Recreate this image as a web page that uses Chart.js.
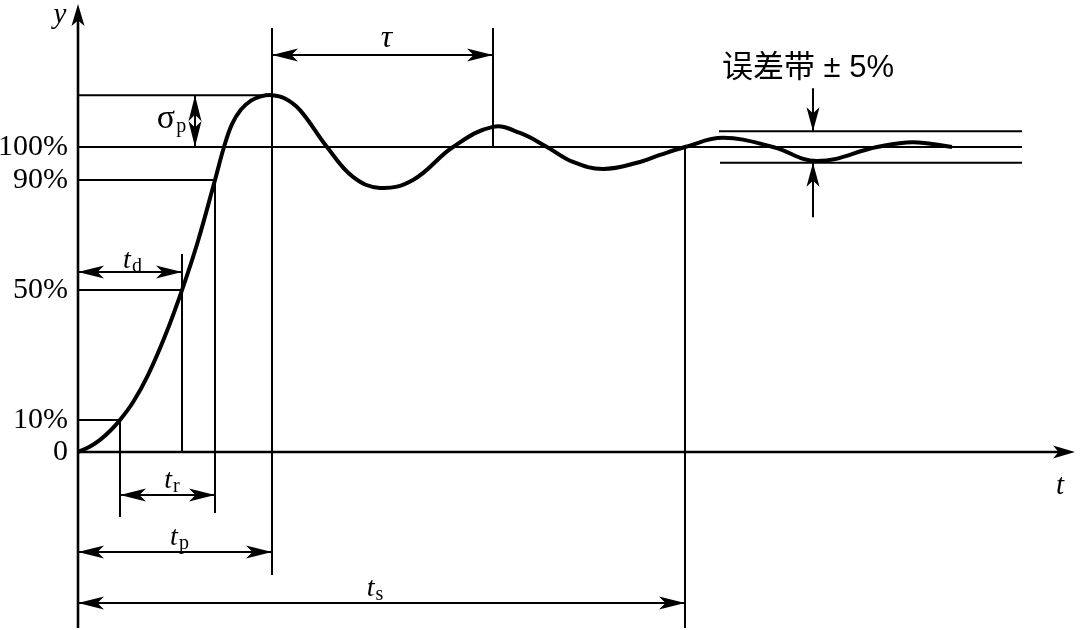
<!DOCTYPE html>
<html><head><meta charset="utf-8">
<script src="https://cdn.jsdelivr.net/npm/chart.js@4/dist/chart.umd.min.js"></script>
<style>html,body{margin:0;padding:0;background:#fff;}canvas{display:block}</style>
</head><body>
<canvas id="c" width="1081" height="630"></canvas>
<script>
// ---- data ----
const timeValues     = [0, 1.2, 2.2, 3.2, 4.2, 5.5, 7.0, 8.7, 10.4, 12.0, 13.7, 14.6, 15.4, 16.3, 17.3, 18.3, 19.4, 20.7, 22.2, 24.9, 27.5, 30.2, 33.5, 37.5, 41.5, 44.2, 46.9, 49.5, 52.5, 56.2, 58.2, 60.7, 64.5, 69.5, 73.9, 79.9, 83.5, 87.4];
const responseValues = [0, 1.8, 4.0, 6.9, 10.5, 16.3, 25.2, 38.0, 53.1, 69.2, 89.2, 100, 107.5, 112.3, 115.2, 116.6, 117.0, 115.9, 112.1, 100, 90.2, 86.6, 89.2, 100, 106.6, 104.6, 100, 95.1, 92.8, 95.1, 97.4, 100, 103.0, 100, 95.4, 100, 101.6, 100];
const levelValues = [0, 10.5, 53.1, 89.2, 100];
const levelLabels = ['0', '10%', '50%', '90%', '100%'];
const peakValue = 117.0;
const keyTimeNames  = ['t10', 'td', 't90', 'tp', 'tp2', 'ts'];
const keyTimeValues = [4.2, 10.4, 13.7, 19.4, 41.5, 60.7];
const bandValues = [105.2, 94.8];
const bandLabel = '误差带 ± 5%';

const T = {}; keyTimeNames.forEach((n, i) => T[n] = keyTimeValues[i]);

const annot = {
  id: 'annot',
  beforeDatasetsDraw(chart) {
    const ctx = chart.ctx, xs = chart.scales.x, ys = chart.scales.y;
    const X = v => xs.getPixelForValue(v), Y = v => ys.getPixelForValue(v);
    ctx.save();
    ctx.strokeStyle = '#000'; ctx.lineCap = 'butt';
    const line = (x1, y1, x2, y2, w) => { ctx.lineWidth = w; ctx.beginPath(); ctx.moveTo(X(x1), Y(y1)); ctx.lineTo(X(x2), Y(y2)); ctx.stroke(); };
    const thin = 2;
    // axes
    line(0, ys.min, 0, ys.max - 2, 2.6);
    line(0, 0, xs.max - 1, 0, 2.6);
    // levels
    line(0, 100, 94.4, 100, thin);
    line(0, peakValue, T.tp, peakValue, thin);
    line(0, levelValues[3], T.t90, levelValues[3], thin);
    line(0, levelValues[2], T.td, levelValues[2], thin);
    line(0, levelValues[1], T.t10, levelValues[1], thin);
    // verticals
    line(T.t10, levelValues[1], T.t10, -21.3, thin);
    line(T.td, 64.9, T.td, 0, thin);
    line(T.t90, levelValues[3], T.t90, -20.0, thin);
    line(T.tp, 139.0, T.tp, -40.3, thin);
    line(T.tp2, 139.0, T.tp2, 100, thin);
    line(T.ts, 100, T.ts, ys.min, thin);
    // band
    line(64.1, bandValues[0], 94.4, bandValues[0], thin);
    line(64.2, bandValues[1], 94.4, bandValues[1], thin);
    ctx.restore();
  },
  afterDatasetsDraw(chart) {
    const ctx = chart.ctx, xs = chart.scales.x, ys = chart.scales.y;
    const X = v => xs.getPixelForValue(v), Y = v => ys.getPixelForValue(v);
    ctx.save();
    ctx.fillStyle = '#000'; ctx.strokeStyle = '#000';
    const head = (tx, ty, ang, len = 26, half = 6.5) => {
      const dx = Math.cos(ang), dy = Math.sin(ang);
      const px = -dy, py = dx;
      ctx.beginPath();
      ctx.moveTo(tx, ty);
      ctx.lineTo(tx - len * dx + half * px, ty - len * dy + half * py);
      ctx.lineTo(tx - 0.75 * len * dx, ty - 0.75 * len * dy);
      ctx.lineTo(tx - len * dx - half * px, ty - len * dy - half * py);
      ctx.closePath(); ctx.fill();
    };
    const dbl = (x1, y1, x2, y2) => {
      const a = X(x1), b = Y(y1), c = X(x2), d = Y(y2);
      ctx.lineWidth = 2; ctx.beginPath(); ctx.moveTo(a, b); ctx.lineTo(c, d); ctx.stroke();
      const ang = Math.atan2(d - b, c - a);
      head(c, d, ang); head(a, b, ang + Math.PI);
    };
    const single = (x1, y1, x2, y2, len) => {
      const a = X(x1), b = Y(y1), c = X(x2), d = Y(y2);
      ctx.lineWidth = 2; ctx.beginPath(); ctx.moveTo(a, b); ctx.lineTo(c, d); ctx.stroke();
      head(c, d, Math.atan2(d - b, c - a), len, 6.5);
    };
    // axis arrowheads
    head(X(0), Y(ys.max) - 1, -Math.PI / 2, 22, 6.5);
    head(X(xs.max) - 3, Y(0), 0, 22, 6.5);
    // dimension arrows
    dbl(11.7, 100, 11.7, peakValue);
    dbl(T.tp, 130.2, T.tp2, 130.2);
    dbl(0, 59.0, T.td, 59.0);
    dbl(T.t10, -14.1, T.t90, -14.1);
    dbl(0, -32.8, T.tp, -32.8);
    dbl(0, -49.5, T.ts, -49.5);
    // band arrows
    single(73.5, 119.3, 73.5, bandValues[0], 24);
    single(73.5, 77.0, 73.5, bandValues[1], 24);

    // labels
    const mainF = 'italic 28px "Liberation Serif"', subF = '20px "Liberation Serif"';
    const sub = (m, s, cx, base, mf = mainF, sf = subF) => {
      ctx.font = mf; const w1 = ctx.measureText(m).width;
      ctx.font = sf; const w2 = ctx.measureText(s).width;
      const x0 = cx - (w1 + w2) / 2;
      ctx.textAlign = 'left'; ctx.textBaseline = 'alphabetic';
      ctx.font = mf; ctx.fillText(m, x0, base);
      ctx.font = sf; ctx.fillText(s, x0 + w1 + 1, base + 4);
    };
    sub('t', 'd', (X(0) + X(T.td)) / 2 + 2, Y(59.0) - 4);
    sub('t', 'r', (X(T.t10) + X(T.t90)) / 2 + 4, Y(-14.1) - 7);
    sub('t', 'p', (X(0) + X(T.tp)) / 2 + 4, Y(-32.8) - 7);
    sub('t', 's', (X(0) + X(T.ts)) / 2 - 7, Y(-49.5) - 7);
    sub('σ', 'p', 171, 128, '34px "Liberation Serif"', '20px "Liberation Serif"');
    ctx.textAlign = 'center'; ctx.textBaseline = 'alphabetic';
    ctx.font = 'italic 32px "Liberation Serif"';
    ctx.fillText('τ', (X(T.tp) + X(T.tp2)) / 2 + 4, Y(130.2) - 8);
    ctx.font = 'italic 29px "Liberation Serif"';
    ctx.fillText('y', 60, 23);
    ctx.fillText('t', 1060, 494);
    ctx.textAlign = 'left'; ctx.textBaseline = 'middle';
    ctx.font = '31px "Liberation Sans", "Noto Sans CJK SC"';
    ctx.fillText(bandLabel, 722, 68);
    ctx.restore();
  }
};

new Chart(document.getElementById('c'), {
  type: 'line',
  data: {
    datasets: [{
      data: timeValues.map((t, i) => ({ x: t, y: responseValues[i] })),
      borderColor: '#000', borderWidth: 4, pointRadius: 0,
      tension: 0.4, fill: false
    }]
  },
  options: {
    responsive: false, animation: false,
    layout: { padding: { top: 5, bottom: 2, left: 0, right: 3 } },
    plugins: { legend: { display: false }, tooltip: { enabled: false } },
    scales: {
      x: { type: 'linear', min: 0, max: 100, display: false },
      y: {
        type: 'linear', min: -57.7, max: 146.56,
        afterFit(s) { s.width = 78; s.paddingTop = 0; s.paddingBottom = 0; },
        afterBuildTicks(s) { s.ticks = levelValues.map(v => ({ value: v })); },
        ticks: {
          autoSkip: false, padding: 10, color: '#000',
          font: { family: 'Liberation Serif', size: 30 },
          callback: (v, i) => levelLabels[i]
        },
        grid: { display: false, drawTicks: false },
        border: { display: false }
      }
    }
  },
  plugins: [annot]
});
</script>
</body></html>
